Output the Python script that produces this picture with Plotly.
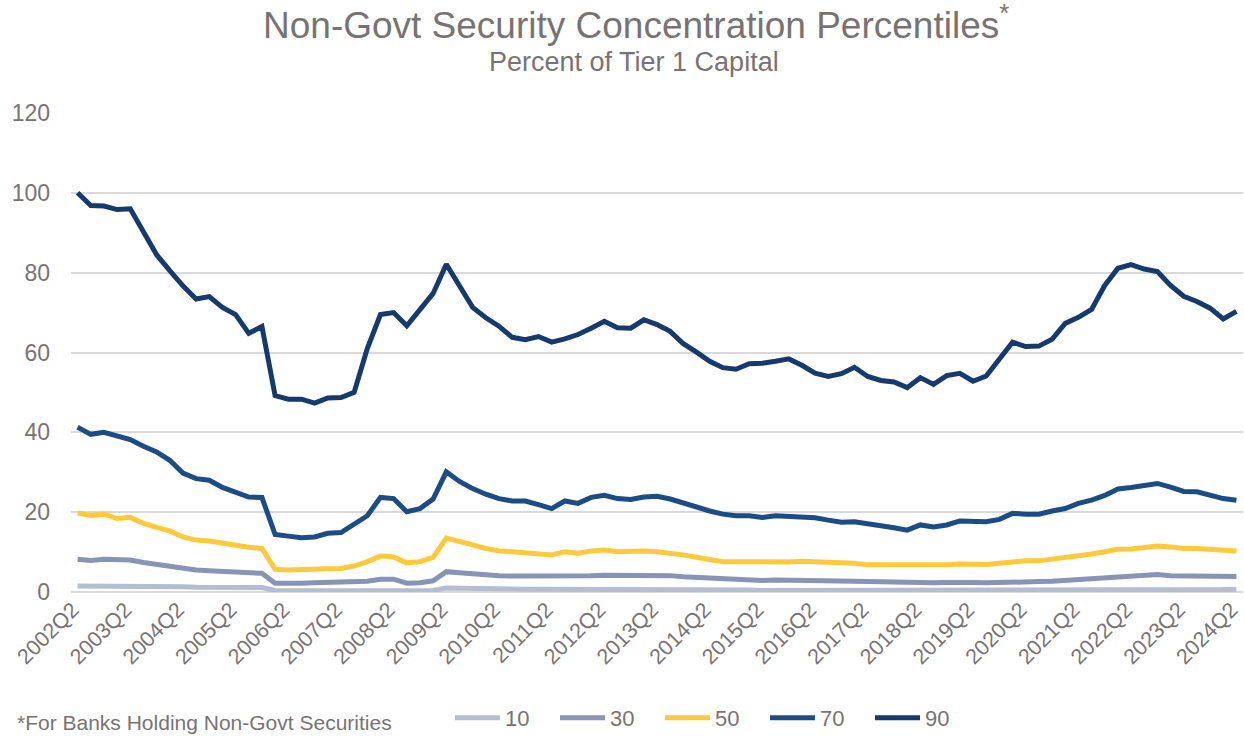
import plotly.graph_objects as go

# Quarterly categories 2002Q2 .. 2024Q2
quarters = []
for yr in range(2002, 2025):
    for q in (1, 2, 3, 4):
        if (yr == 2002 and q < 2) or (yr == 2024 and q > 2):
            continue
        quarters.append(f"{yr}Q{q}")

tick_labels = [q for q in quarters if q.endswith("Q2")]

p10 = [1.5, 1.5, 1.6, 1.5, 1.5, 1.4, 1.4, 1.3, 1.3, 1.2, 1.2, 1.2, 1.1, 1.1, 1.1,
       0.4, 0.3, 0.3, 0.3, 0.3, 0.3, 0.3, 0.4, 0.5, 0.5, 0.3, 0.3, 0.4,
       1.0, 0.9, 0.8, 0.8, 0.8, 0.7, 0.7, 0.7, 0.7, 0.7, 0.7, 0.8, 0.8, 0.8, 0.8, 0.8, 0.8,
       0.7, 0.7, 0.6, 0.6, 0.5, 0.5, 0.5, 0.4, 0.4, 0.4, 0.4, 0.4, 0.3, 0.3,
       0.3, 0.3, 0.3, 0.3, 0.3, 0.3, 0.3, 0.3, 0.3, 0.3, 0.3, 0.3,
       0.4, 0.4, 0.4, 0.4, 0.4, 0.4, 0.5, 0.5, 0.5,
       0.6, 0.6, 0.6, 0.6, 0.6, 0.6, 0.6, 0.6, 0.7]

p30 = [8.2, 7.9, 8.2, 8.0, 8.0, 7.4, 6.9, 6.6, 5.9, 5.5, 5.3, 5.2, 4.8, 4.7, 4.7,
       2.2, 2.1, 2.2, 2.3, 2.4, 2.5, 2.6, 2.7, 3.2, 3.2, 2.2, 2.3, 2.8,
       5.1, 4.8, 4.5, 4.2, 4.1, 4.0, 4.0, 3.8, 3.8, 4.0, 4.0, 4.1, 4.2, 4.2, 4.2, 4.3, 4.3,
       4.1, 3.8, 3.6, 3.4, 3.2, 3.1, 3.1, 2.9, 3.0, 3.0, 2.9, 2.9, 2.8, 2.8,
       2.7, 2.6, 2.5, 2.4, 2.3, 2.3, 2.3, 2.4, 2.5, 2.4, 2.3, 2.3,
       2.5, 2.6, 2.6, 2.7, 2.9, 3.1, 3.2, 3.6, 3.8, 3.8, 4.2, 4.4, 4.1, 4.0, 4.0, 4.0, 4.0, 3.9]

p50 = [19.8, 19.2, 19.5, 18.4, 18.7, 17.2, 16.2, 15.3, 13.8, 13.0, 12.8, 12.2, 11.5, 11.2, 10.9,
       5.7, 5.5, 5.5, 5.6, 5.8, 5.9, 6.5, 7.6, 9.0, 8.8, 7.3, 7.6, 8.7,
       13.5, 12.8, 11.8, 10.9, 10.3, 10.1, 9.8, 9.5, 9.3, 10.1, 9.7, 10.3, 10.5, 10.1, 10.3, 10.3, 10.1,
       9.8, 9.3, 8.7, 8.2, 7.6, 7.6, 7.6, 7.4, 7.3, 7.5, 7.7, 7.6, 7.4, 7.3,
       7.2, 6.8, 6.8, 6.5, 6.5, 6.6, 6.5, 6.8, 7.0, 6.9, 6.9, 7.2,
       7.6, 7.8, 7.8, 8.2, 8.4, 8.8, 9.5, 10.1, 10.7, 10.8, 11.3, 11.5, 11.3, 10.9, 10.9, 10.8, 10.7, 10.3]

p70 = [41.3, 39.5, 40.0, 39.0, 38.2, 36.5, 35.1, 33.0, 29.8, 28.4, 28.0, 26.2, 25.1, 23.8, 23.7,
       14.4, 14.0, 13.6, 13.8, 14.7, 14.9, 17.0, 19.1, 23.7, 23.4, 20.1, 20.9, 23.3,
       30.1, 27.7, 25.9, 24.5, 23.4, 22.8, 22.8, 21.9, 20.9, 22.8, 22.2, 23.7, 24.2, 23.4, 23.2, 23.8, 24.0,
       23.3, 22.2, 21.3, 20.3, 19.5, 19.1, 19.1, 18.7, 19.1, 19.0, 18.7, 18.6, 18.0, 17.5,
       17.6, 17.2, 16.5, 16.1, 15.5, 16.8, 16.3, 16.8, 17.8, 17.6, 17.6, 18.2,
       19.7, 19.5, 19.5, 20.3, 20.9, 22.2, 23.0, 24.2, 25.8, 26.2, 26.8, 27.2, 26.3, 25.2, 25.1, 24.2, 23.4, 23.0]

p90 = [100.0, 96.8, 96.7, 95.8, 96.0, 90.5, 84.5, 80.5, 76.7, 73.4, 74.0, 71.3, 69.5, 64.8, 66.5,
       49.2, 48.3, 48.3, 47.3, 48.6, 48.7, 50.0, 61.0, 69.5, 70.0, 66.7, 71.0, 74.8,
       82.1, 76.8, 71.3, 68.7, 66.6, 63.8, 63.2, 64.0, 62.6, 63.4, 64.5, 66.1, 67.8, 66.2, 66.1, 68.2, 67.0,
       65.3, 62.2, 60.1, 57.8, 56.2, 55.8, 57.2, 57.3, 57.8, 58.4, 56.8, 54.8, 54.0, 54.7,
       56.3, 54.0, 53.0, 52.6, 51.2, 53.7, 52.0, 54.2, 54.8, 52.8, 54.1, 58.4,
       62.6, 61.5, 61.6, 63.3, 67.3, 68.8, 70.8, 76.8, 81.1, 82.0, 80.9, 80.3, 76.8, 74.1, 72.8, 71.1, 68.4, 70.3]

series_names = ["10", "30", "50", "70", "90"]
series_values = [p10, p30, p50, p70, p90]
series_colors = ["#B4BDD2", "#8794B5", "#FFC93C", "#1B4C85", "#163A6B"]

FONT = "Liberation Sans, Arial, sans-serif"
TXT = "#787373"

# plot area in pixels
L, R, T, B = 71, 1243, 113, 592
W, H = R - L, B - T


def px_x(x):
    return (x - L) / W


def px_y(y):
    return (B - y) / H


fig = go.Figure()
for name, vals, col in zip(series_names, series_values, series_colors):
    fig.add_trace(go.Scatter(
        x=quarters, y=vals, name=name, mode="lines",
        line=dict(color=col, width=5, shape="linear"),
        cliponaxis=False,
    ))

fig.update_layout(
    width=1244, height=736,
    margin=dict(l=L, r=1244 - R, t=T, b=736 - B, autoexpand=False),
    paper_bgcolor="white", plot_bgcolor="white",
    showlegend=True,
    legend=dict(
        orientation="h", x=px_x(450), xanchor="left", y=px_y(718), yanchor="middle",
        font=dict(family=FONT, size=22, color=TXT),
        itemwidth=45, entrywidth=45, entrywidthmode="pixels",
        tracegroupgap=0, bgcolor="rgba(0,0,0,0)",
    ),
    xaxis=dict(
        type="category", range=[-0.5, 88.5],
        tickmode="array", tickvals=tick_labels, ticktext=tick_labels,
        tickangle=-45, tickfont=dict(family=FONT, size=21.5, color=TXT),
        ticklabelshift=-5,
        showgrid=False, zeroline=False, showline=False, ticks="",
        automargin=False,
    ),
    yaxis=dict(
        range=[0, 120], dtick=20,
        tickfont=dict(family=FONT, size=23, color=TXT),
        showgrid=True, gridcolor="#D9D9D9", gridwidth=1.5,
        zeroline=True, zerolinecolor="#D9D9D9", zerolinewidth=1.5,
        showline=False, ticks="", ticklabelstandoff=20, automargin=False,
    ),
    annotations=[
        dict(text="Non-Govt Security Concentration Percentiles<sup>*</sup>",
             xref="paper", yref="paper", x=px_x(636), y=px_y(23),
             xanchor="center", yanchor="middle", showarrow=False,
             font=dict(family=FONT, size=37, color=TXT)),
        dict(text="Percent of Tier 1 Capital",
             xref="paper", yref="paper", x=px_x(634), y=px_y(62),
             xanchor="center", yanchor="middle", showarrow=False,
             font=dict(family=FONT, size=27, color=TXT)),
        dict(text="*For Banks Holding Non-Govt Securities",
             xref="paper", yref="paper", x=px_x(15), y=px_y(722),
             xanchor="left", yanchor="middle", showarrow=False,
             font=dict(family=FONT, size=21, color=TXT)),
    ],
)

fig.write_html("out.html")
